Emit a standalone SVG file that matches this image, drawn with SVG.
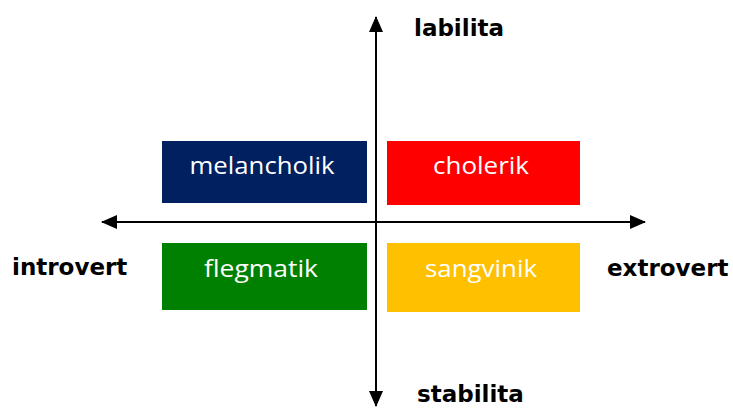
<svg xmlns="http://www.w3.org/2000/svg" width="733" height="408" viewBox="0 0 733 408">
<style>
.box text{font-family:"Open Sans","Noto Sans",sans-serif;font-size:24px;fill:#fff;text-anchor:middle}
.lbl{font-family:"DejaVu Sans",sans-serif;font-weight:bold;font-size:23px;fill:#000}
.ax{stroke:#000;stroke-width:2;fill:none}
</style>
<defs>
<marker id="ah" viewBox="0 0 16 14" refX="15" refY="7" markerWidth="16" markerHeight="14" markerUnits="userSpaceOnUse" orient="auto-start-reverse">
<path d="M0,0 L16,7 L0,14 Z" fill="#000"/>
</marker>
</defs>
<g id="connectors">
<line class="ax" x1="376" y1="17" x2="376" y2="406" marker-start="url(#ah)" marker-end="url(#ah)"/>
<line class="ax" x1="102" y1="222" x2="645" y2="222" marker-start="url(#ah)" marker-end="url(#ah)"/>
</g>
<g id="melancholik" class="box"><rect x="162" y="141" width="205" height="62" fill="#002060"/><text x="262" y="174" textLength="145" lengthAdjust="spacingAndGlyphs">melancholik</text></g>
<g id="cholerik" class="box"><rect x="387" y="141" width="193" height="64" fill="#FF0000"/><text x="481" y="174" textLength="96" lengthAdjust="spacingAndGlyphs">cholerik</text></g>
<g id="flegmatik" class="box"><rect x="162" y="243" width="205" height="67" fill="#008000"/><text x="261" y="277" textLength="114" lengthAdjust="spacingAndGlyphs">flegmatik</text></g>
<g id="sangvinik" class="box"><rect x="387" y="243" width="193" height="69" fill="#FFC000"/><text x="481" y="277" textLength="112" lengthAdjust="spacingAndGlyphs">sangvinik</text></g>
<g id="labels">
<text class="lbl" x="414" y="36">labilita</text>
<text class="lbl" x="417" y="402">stabilita</text>
<text class="lbl" x="12" y="275">introvert</text>
<text class="lbl" x="607" y="276">extrovert</text>
</g>
</svg>
